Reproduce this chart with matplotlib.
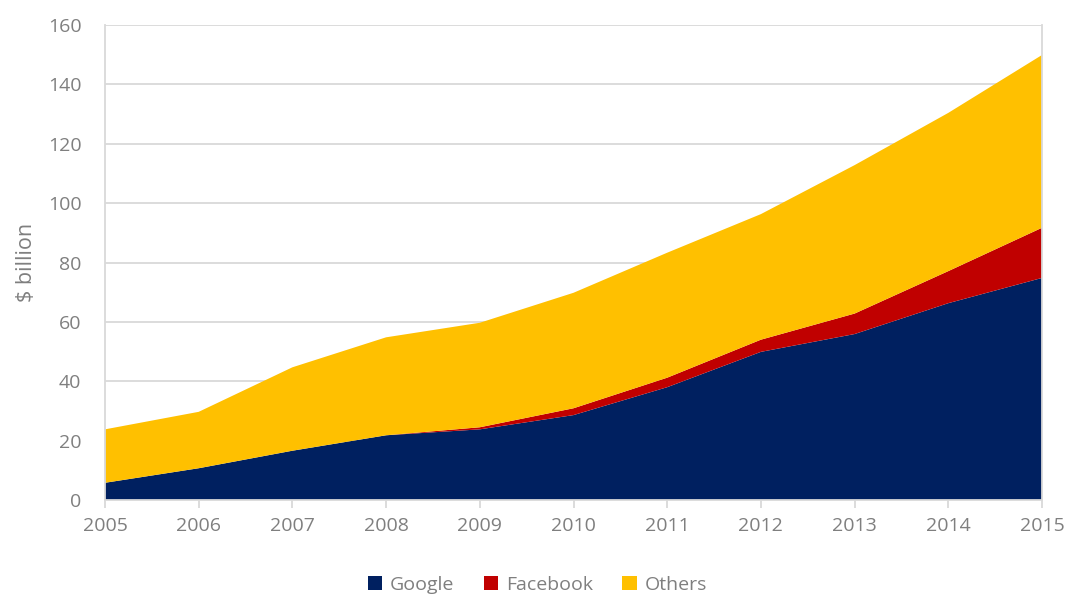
import numpy as np
import matplotlib
matplotlib.use("Agg")
from matplotlib import pyplot as plt
from matplotlib.patches import Patch


YEARS = [2005, 2006, 2007, 2008, 2009, 2010, 2011, 2012, 2013, 2014, 2015]
GOOGLE = [5.8, 10.7, 16.6, 21.8, 23.8, 28.6, 38.0, 49.9, 55.9, 66.3, 74.8]
FACEBOOK = [0.0, 0.0, 0.0, 0.0, 0.7, 2.3, 3.2, 4.1, 6.9, 10.8, 16.9]
TOTAL = [23.8, 29.7, 44.7, 54.8, 59.7, 69.8, 83.3, 96.3, 112.8, 130.4, 149.9]
OTHERS = [t - g - f for t, g, f in zip(TOTAL, GOOGLE, FACEBOOK)]

SERIES = ["Google", "Facebook", "Others"]
COLORS = ["#002060", "#C00000", "#FFC000"]
YTICKS = [0, 20, 40, 60, 80, 100, 120, 140, 160]

TEXT_COL = "#7F7F7F"
GRID_COL = "#D9D9D9"

plt.rcParams["font.family"] = ["Open Sans", "DejaVu Sans"]


def main():
    fig = plt.figure(figsize=(10.68, 5.97), dpi=100)
    ax = fig.add_axes([105 / 1068, 97 / 597, 937 / 1068, 475 / 597])

    ax.stackplot(YEARS, GOOGLE, FACEBOOK, OTHERS, colors=COLORS,
                 labels=SERIES, linewidth=0, zorder=2)

    ax.set_xlim(YEARS[0], YEARS[-1])
    ax.set_ylim(0, 160)
    ax.set_xticks(YEARS)
    ax.set_yticks(YTICKS)
    ax.grid(axis="y", color=GRID_COL, linewidth=1.3, zorder=0)
    ax.set_axisbelow(True)

    for side in ("left", "right", "bottom", "top"):
        ax.spines[side].set_color(GRID_COL)
        ax.spines[side].set_linewidth(1.3)
    ax.spines["top"].set_visible(False)

    ax.tick_params(axis="x", colors=GRID_COL, length=6, width=1.3,
                   labelcolor=TEXT_COL, labelsize=14, pad=6)
    ax.tick_params(axis="y", length=0, labelcolor=TEXT_COL,
                   labelsize=14, pad=17)

    ax.set_ylabel("$ billion", color=TEXT_COL, fontsize=15.5, labelpad=8)

    handles = [Patch(facecolor=c, edgecolor="none") for c in COLORS]
    fig.legend(handles, SERIES, loc="center", bbox_to_anchor=(0.503, 0.02),
               ncol=3, frameon=False, fontsize=14, labelcolor=TEXT_COL,
               handlelength=0.75, handleheight=0.75, handletextpad=0.4,
               columnspacing=1.5)

    fig.savefig("out.png", dpi=100, facecolor="white")


if __name__ == "__main__":
    main()
